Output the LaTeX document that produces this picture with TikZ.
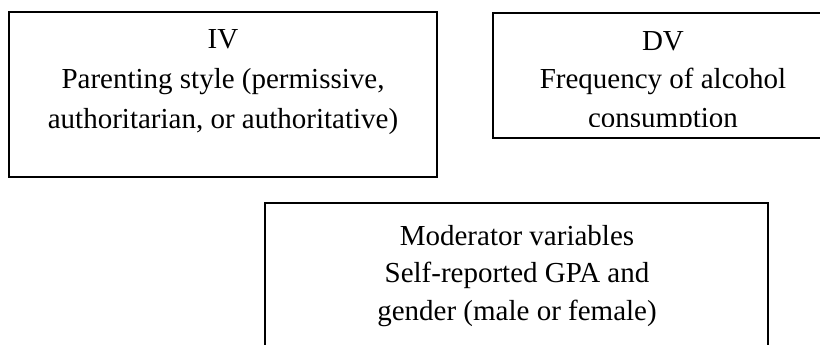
\documentclass[tikz,border=0pt]{standalone}
\usepackage{fontspec}
\setmainfont{Liberation Serif}
\tikzset{
  varbox/.style={draw, line width=1.6pt, inner sep=0pt},
  vartext/.style={align=center, inner sep=0pt, anchor=north, font=\fontsize{29}{40}\selectfont}
}
\begin{document}
\begin{tikzpicture}[x=1pt,y=-1pt]
\clip (0,0) rectangle (820,345);
\node[varbox, minimum width=428pt, minimum height=165pt] (iv) at (223,94.5) {};
\node[varbox, minimum width=337pt, minimum height=125pt] (dv) at (661.5,75.5) {};
\node[varbox, minimum width=503pt, minimum height=157pt] (mod) at (516.5,281.5) {};
\node[vartext] (ivlabel) at (223,29) {IV\\Parenting style (permissive,\\authoritarian, or authoritative)};
\begin{scope}
  \clip (493,13) rectangle (820,126.5);
  \node[vartext, font=\fontsize{29}{38.5}\selectfont] (dvlabel) at (663,31) {DV\\Frequency of alcohol\\consumption};
\end{scope}
\node[vartext, font=\fontsize{29}{37.5}\selectfont] (modlabel) at (517,225) {Moderator variables\\Self-reported GPA and\\gender (male or female)};
\end{tikzpicture}
\end{document}
